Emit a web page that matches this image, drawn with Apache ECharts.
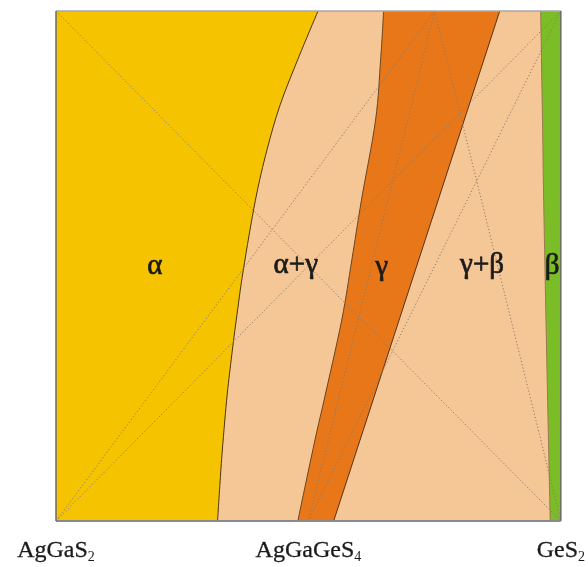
<!DOCTYPE html>
<html>
<head>
<meta charset="utf-8">
<script src="https://cdn.jsdelivr.net/npm/echarts@6/dist/echarts.min.js"></script>
<style>
  html, body { margin: 0; padding: 0; background: #ffffff; }
  #chart { width: 588px; height: 567px; }
</style>
</head>
<body>
<div id="chart"></div>
<script>
// Composition axis: 0 = AgGaS2, 0.5 = AgGaGeS4, 1 = GeS2 (y is relative temperature, 0..1)
const compositionTicks = [0, 0.5, 1];
const tickFormulas = [['AgGaS', '2'], ['AgGaGeS', '4'], ['GeS', '2']];

// Phase boundaries, each listed from the top edge (y = 1) down to the bottom edge (y = 0)
const alphaBoundary = [
  [0.519, 1.000], [0.481, 0.910], [0.444, 0.816], [0.418, 0.728], [0.395, 0.629],
  [0.371, 0.492], [0.357, 0.394], [0.347, 0.316], [0.338, 0.237], [0.328, 0.120], [0.320, 0.000]
];
const gammaLeftBoundary = [
  [0.649, 1.000], [0.643, 0.904], [0.633, 0.786], [0.605, 0.629], [0.586, 0.512],
  [0.566, 0.394], [0.531, 0.237], [0.513, 0.159], [0.479, 0.000]
];
const gammaRightBoundary = [[0.879, 1.000], [0.550, 0.000]];
const betaBoundary = [[0.960, 1.000], [0.964, 0.767], [0.966, 0.629], [0.973, 0.277], [0.979, 0.000]];

// Dotted construction lines between reference compositions
const tieLines = [
  [[0, 1], [1, 0]],
  [[0, 0], [1, 1]],
  [[0, 0], [0.75, 1]],
  [[0.5, 0], [0.75, 1]],
  [[0.5, 0], [1, 1]],
  [[0.75, 1], [1, 0]]
];

// Phase field names and where they sit
const phaseNames = ['α', 'α+γ', 'γ', 'γ+β', 'β'];
const phaseAnchors = [[0.196, 0.50], [0.475, 0.502], [0.645, 0.498], [0.844, 0.502], [0.983, 0.50]];

const COLORS = {
  alpha: '#F6C300',
  twoPhase: '#F5C696',
  gamma: '#E77718',
  beta: '#7BBD27',
  boundary: '#4a3510',
  tie: '#8c7b6b',
  text: '#1a1a1a'
};
const SERIF = '"Liberation Serif", "Times New Roman", serif';

// Catmull-Rom spline through pixel points, as cubic Bezier segments (no leading move)
function splineSegments(pts) {
  if (pts.length === 2) return ` L${pts[1][0]},${pts[1][1]}`;
  let d = '';
  for (let i = 0; i < pts.length - 1; i++) {
    const p0 = pts[i - 1] || pts[i];
    const p1 = pts[i];
    const p2 = pts[i + 1];
    const p3 = pts[i + 2] || pts[i + 1];
    const c1 = [p1[0] + (p2[0] - p0[0]) / 6, p1[1] + (p2[1] - p0[1]) / 6];
    const c2 = [p2[0] - (p3[0] - p1[0]) / 6, p2[1] - (p3[1] - p1[1]) / 6];
    d += ` C${c1[0]},${c1[1]} ${c2[0]},${c2[1]} ${p2[0]},${p2[1]}`;
  }
  return d;
}
const mv = p => `M${p[0]},${p[1]}`;
const ln = p => ` L${p[0]},${p[1]}`;

function renderPhases(params, api) {
  const c = p => api.coord(p);
  const tl = c([0, 1]), tr = c([1, 1]), bl = c([0, 0]), br = c([1, 0]);
  const a = alphaBoundary.map(c);
  const gl = gammaLeftBoundary.map(c);
  const gr = gammaRightBoundary.map(c);
  const b = betaBoundary.map(c);

  const children = [];
  // two-phase background
  children.push({ type: 'polygon', shape: { points: [tl, tr, br, bl] }, style: { fill: COLORS.twoPhase } });
  // alpha field
  children.push({ type: 'path', shape: { pathData: mv(tl) + ln(a[0]) + splineSegments(a) + ln(bl) + ' Z' },
    style: { fill: COLORS.alpha } });
  // gamma field
  const grRev = gr.slice().reverse();
  children.push({ type: 'path', shape: { pathData: mv(gl[0]) + splineSegments(gl) + ln(grRev[0]) + splineSegments(grRev) + ' Z' },
    style: { fill: COLORS.gamma } });
  // beta field
  children.push({ type: 'path', shape: { pathData: mv(b[0]) + splineSegments(b) + ln(br) + ln(tr) + ' Z' },
    style: { fill: COLORS.beta } });

  // boundary strokes
  children.push({ type: 'path', shape: { pathData: mv(a[0]) + splineSegments(a) },
    style: { fill: null, stroke: COLORS.boundary, lineWidth: 1 } });
  children.push({ type: 'path', shape: { pathData: mv(gl[0]) + splineSegments(gl) },
    style: { fill: null, stroke: '#6b4520', lineWidth: 1 } });
  children.push({ type: 'path', shape: { pathData: mv(gr[0]) + splineSegments(gr) },
    style: { fill: null, stroke: '#5a3212', lineWidth: 1 } });
  children.push({ type: 'path', shape: { pathData: mv(b[0]) + splineSegments(b) },
    style: { fill: null, stroke: '#9a7a50', lineWidth: 1 } });
  return { type: 'group', children };
}

function renderFrame(params, api) {
  const c = p => api.coord(p);
  const tl = c([0, 1]), tr = c([1, 1]), bl = c([0, 0]), br = c([1, 0]);
  return { type: 'group', children: [
    { type: 'line', shape: { x1: tl[0], y1: tl[1], x2: tr[0], y2: tr[1] }, style: { stroke: '#a8a8a8', lineWidth: 1.5 } },
    { type: 'line', shape: { x1: tr[0], y1: tr[1], x2: br[0], y2: br[1] }, style: { stroke: '#6a6a6a', lineWidth: 1.5 } },
    { type: 'line', shape: { x1: bl[0], y1: bl[1], x2: br[0], y2: br[1] }, style: { stroke: '#8a8a8a', lineWidth: 2 } },
    { type: 'line', shape: { x1: tl[0], y1: tl[1], x2: bl[0], y2: bl[1] }, style: { stroke: '#6a6a6a', lineWidth: 1.5 } }
  ] };
}

function renderNames(params, api) {
  const i = params.dataIndex;
  const p = api.coord(phaseAnchors[i]);
  return { type: 'text', x: p[0], y: p[1],
    style: { text: phaseNames[i], fill: COLORS.text, font: `29px ${SERIF}`, align: 'center', verticalAlign: 'middle',
      stroke: COLORS.text, lineWidth: 0.7 } };
}

const tieSeries = tieLines.map(seg => ({
  type: 'line',
  data: seg,
  symbol: 'none',
  silent: true,
  z: 3,
  lineStyle: { color: COLORS.tie, width: 1, type: [1.2, 2.2] }
}));

const chart = echarts.init(document.getElementById('chart'), null, { renderer: 'canvas' });
chart.setOption({
  animation: false,
  backgroundColor: '#ffffff',
  grid: { left: 56, top: 11, width: 507, height: 510, containLabel: false },
  xAxis: {
    type: 'value', min: 0, max: 1, interval: 0.5,
    axisLine: { show: false }, axisTick: { show: false }, splitLine: { show: false },
    axisLabel: {
      margin: 17, showMinLabel: true, showMaxLabel: true,
      formatter: v => {
        const k = compositionTicks.indexOf(v);
        if (k < 0) return '';
        return `{m|${tickFormulas[k][0]}}{s|${tickFormulas[k][1]}}`;
      },
      rich: {
        m: { fontFamily: SERIF, fontSize: 24, color: '#1a1a1a', lineHeight: 26, textBorderColor: '#1a1a1a', textBorderWidth: 0.3 },
        s: { fontFamily: SERIF, fontSize: 14, color: '#1a1a1a', lineHeight: 26, padding: [12, 0, 0, 0] }
      }
    }
  },
  yAxis: {
    type: 'value', min: 0, max: 1,
    axisLine: { show: false }, axisTick: { show: false }, splitLine: { show: false }, axisLabel: { show: false }
  },
  series: [
    { type: 'custom', renderItem: renderPhases, data: [0], z: 1, silent: true, clip: false },
    ...tieSeries,
    { type: 'custom', renderItem: renderFrame, data: [0], z: 5, silent: true, clip: false },
    { type: 'custom', renderItem: renderNames, data: phaseNames.map((n, i) => i), z: 6, silent: true, clip: false }
  ]
});
</script>
</body>
</html>
